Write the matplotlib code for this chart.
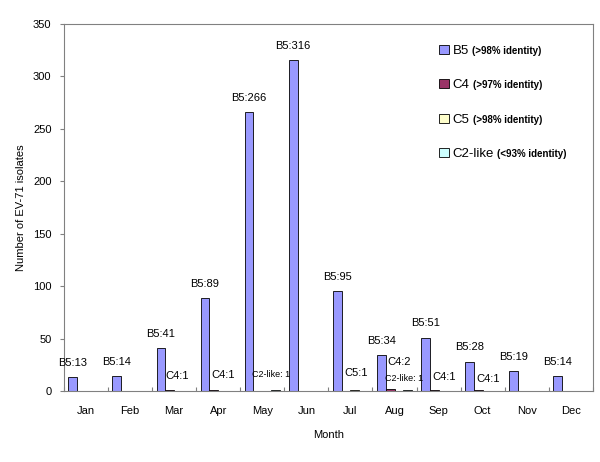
import numpy as np
import matplotlib.pyplot as plt

plt.rcParams['font.family'] = ['Liberation Sans', 'DejaVu Sans']

# data
months = ['Jan', 'Feb', 'Mar', 'Apr', 'May', 'Jun', 'Jul', 'Aug', 'Sep', 'Oct', 'Nov', 'Dec']
b5 = [13, 14, 41, 89, 266, 316, 95, 34, 51, 28, 19, 14]
c4 = [0, 0, 1, 1, 0, 0, 0, 2, 1, 1, 0, 0]
c5 = [0, 0, 0, 0, 0, 0, 1, 0, 0, 0, 0, 0]
c2like = [0, 0, 0, 0, 1, 0, 0, 1, 0, 0, 0, 0]

series_names = ['B5', 'C4', 'C5', 'C2-like']
series_ident = ['(>98% identity)', '(>97% identity)', '(>98% identity)', '(<93% identity)']
series_colors = ['#9999ff', '#993366', '#ffffcc', '#ccffff']
series_vals = [b5, c4, c5, c2like]
label_names = ['B5:', 'C4:', 'C5:', 'C2-like: ']

# label offsets (points) for the small bars: (series, month) -> (dx, dy)
small_offsets = {
    (1, 2): (5.5, 10), (1, 3): (7, 10.5), (3, 4): (-3.2, 11), (2, 6): (1, 12),
    (1, 7): (6.8, 19.5), (3, 7): (-2.5, 8.4), (1, 8): (7.5, 9), (1, 9): (6.8, 7.6),
}

# =============================================
#                 PLOT
# =============================================
fig = plt.figure(figsize=(6, 4.62), dpi=100)
ax = fig.add_axes([0.1067, 0.1537, 0.8813, 0.7943])

x = np.arange(len(months))
w = 0.2
handles = []
for k, (vals, col) in enumerate(zip(series_vals, series_colors)):
    h = ax.bar(x + 0.1 + k * w, vals, width=w, align='edge', color=col,
               edgecolor='black', linewidth=0.6)
    handles.append(h)
    for i, v in enumerate(vals):
        if v == 0:
            continue
        cx = x[i] + 0.1 + k * w + w / 2
        off = (0, 10.2) if k == 0 else small_offsets[(k, i)]
        ax.annotate('%s%d' % (label_names[k], v), xy=(cx, v), xytext=off,
                    textcoords='offset points', ha='center', va='center',
                    fontsize=8 if k < 3 else 6.5)

ax.set_xlim(0, 12)
ax.set_ylim(0, 350)
ax.set_yticks(np.arange(0, 351, 50))
ax.set_xticks(np.arange(0, 13))
ax.set_xticklabels([])
ax.set_xticks(x + 0.5, minor=True)
ax.set_xticklabels(months, minor=True)
ax.tick_params(axis='x', which='major', direction='in', length=3, color='#808080')
ax.tick_params(axis='x', which='minor', length=0, pad=11, labelsize=8)
ax.tick_params(axis='y', direction='out', length=3, color='#808080', pad=6, labelsize=8)

for s in ax.spines.values():
    s.set_color('#808080')
    s.set_linewidth(0.8)

ax.set_ylabel('Number of EV-71 isolates', fontsize=8, labelpad=5)
ax.set_xlabel('Month', fontsize=8, labelpad=10)

leg = ax.legend(handles, series_names, loc='upper left', bbox_to_anchor=(0.70, 0.958),
                frameon=False, fontsize=9.5, handlelength=0.7, handleheight=0.7,
                handletextpad=0.3, labelspacing=1.68, borderaxespad=0)

# identity notes next to the legend entries, smaller and bold
fig.canvas.draw()
W, H = fig.bbox.width, fig.bbox.height
for t, ident in zip(leg.get_texts(), series_ident):
    bb = t.get_window_extent()
    fig.text((bb.x1 + 3) / W, (bb.y0 + bb.y1) / 2 / H, ident, va='center', ha='left',
             fontsize=7, fontweight='bold')

fig.savefig('out.png', dpi=100)
